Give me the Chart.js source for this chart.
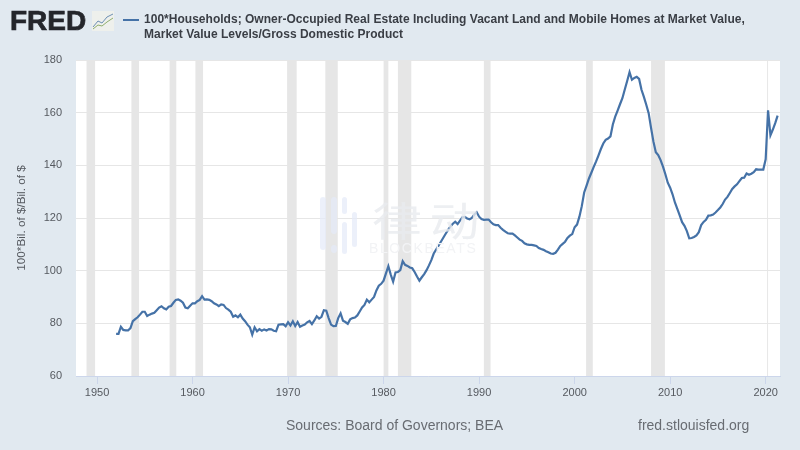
<!DOCTYPE html>
<html>
<head>
<meta charset="utf-8">
<script src="https://cdn.jsdelivr.net/npm/chart.js@4"></script>
<style>
  html, body { margin: 0; padding: 0; background: #e1e9f0; }
  #wrap { position: relative; width: 800px; height: 450px; overflow: hidden; font-family: "Liberation Sans", Arial, sans-serif; }
  #wrap div, #wrap svg { position: absolute; }
  canvas { position: absolute; left: 0; top: 0; }
  #logo { left: 10px; top: 5px; font-size: 28px; line-height: 32px; font-weight: bold; color: #24262b; -webkit-text-stroke: 0.7px #24262b; }
  #icon { left: 92px; top: 11px; }
  #key { left: 123px; top: 19px; width: 16px; height: 2px; background: #4572a7; }
  #title { left: 144px; top: 12px; font-size: 12px; line-height: 15px; font-weight: bold; color: #3a3e45; white-space: nowrap; letter-spacing: 0.02px; }
  #source { left: 286px; top: 417px; font-size: 14px; line-height: 16px; color: #686c72; }
  #site { left: 638px; top: 417px; font-size: 14px; line-height: 16px; color: #686c72; }
  .bar { background: #e4eaf8; border-radius: 3px; opacity: 0.7; }
  #mark { left: 372px; top: 195px; font-family: "Noto Sans CJK SC"; font-size: 40px; line-height: 48px; letter-spacing: 6px; color: #e9ebef; opacity: 0.8; transform: scaleX(1.25); transform-origin: left top; }
  #markEn { left: 369px; top: 241px; font-size: 14px; line-height: 15px; letter-spacing: 1.6px; color: #f2f3f5; }
</style>
</head>
<body>
<div id="wrap">
  <canvas id="mainChart" width="800" height="450"></canvas>
  <div class="bar" style="left:320px;top:197px;width:6px;height:53px"></div>
  <div class="bar" style="left:331px;top:197px;width:6px;height:37px"></div>
  <div class="bar" style="left:331px;top:245px;width:6px;height:8px"></div>
  <div class="bar" style="left:342px;top:197px;width:5px;height:17px"></div>
  <div class="bar" style="left:342px;top:222px;width:5px;height:32px"></div>
  <div class="bar" style="left:352px;top:212px;width:5px;height:35px"></div>
  <div id="mark">律动</div>
  <div id="markEn">BLOCKBEATS</div>
  <div id="logo">FRED</div>
  <svg id="icon" width="22" height="20" viewBox="0 0 22 20">
    <rect width="22" height="20" fill="#eef0ec"/>
    <polyline points="1,16 6,10 10,12 15,6 21,3" fill="none" stroke="#6d8fb3" stroke-width="1"/>
    <polyline points="1,18 6,14 10,15 15,11 21,7" fill="none" stroke="#8fae6d" stroke-width="1"/>
  </svg>
  <div id="key"></div>
  <div id="title">100*Households; Owner-Occupied Real Estate Including Vacant Land and Mobile Homes at Market Value,<br>Market Value Levels/Gross Domestic Product</div>
  <div id="source">Sources: Board of Governors; BEA</div>
  <div id="site">fred.stlouisfed.org</div>
</div>
<script>
var firstYear = 1952;
// quarterly readings, 1952 Q1 onwards
var values = [
  76, 76, 78.7, 77.5, 77.3, 77.3, 78.2, 80.8, 81.6, 82.3, 83.3, 84.4,
  84.4, 82.8, 83.3, 83.7, 84, 85, 86, 86.5, 85.7, 85.3, 86.3, 86.6,
  87.8, 88.9, 89.1, 88.6, 87.8, 86, 85.7, 86.7, 87.6, 87.6, 88.4, 88.9,
  90.3, 89, 89.1, 88.9, 88.4, 87.6, 87.2, 86.5, 87.2, 87, 85.8, 85.2,
  84.4, 82.5, 83, 82.3, 83.3, 81.8, 80.8, 79.5, 78.5, 75.7, 78.5, 77,
  77.8, 77.2, 77.7, 77.3, 77.8, 77.7, 77.2, 77, 79.5, 79.6, 79.7, 78.9,
  80.4, 79.2, 80.8, 79, 80.5, 78.7, 79.2, 79.5, 80.4, 80.9, 79.7, 81.1,
  82.7, 81.8, 82.5, 85, 84.8, 82, 79.5, 78.9, 79, 82, 83.8, 81,
  80.5, 79.8, 81.5, 82, 82.2, 83, 84.5, 86, 87, 89, 88, 89,
  90, 92.5, 94.3, 95, 96.2, 99, 101.7, 98.5, 95.8, 99.3, 99.5, 100.2,
  103.6, 102.2, 101.8, 101.2, 100.9, 99.5, 97.8, 96.2, 97.5, 98.7, 100.2, 102,
  104, 106.5, 108, 109.5, 111, 112.5, 114, 115.5, 116.8, 117.8, 118.6, 117.7,
  119, 120.3, 120.4, 119.8, 119.5, 120, 121.3, 122.2, 120.5, 119.6, 119.3, 119.4,
  119.4, 118.4, 117.6, 117.3, 117.3, 116.3, 115.5, 114.8, 114.2, 114.1, 114.1, 113.4,
  112.6, 111.8, 111.3, 110.4, 110, 109.8, 109.8, 109.6, 109.4, 108.6, 108.2, 107.9,
  107.4, 107, 106.5, 106.4, 106.8, 108, 109.4, 110.2, 111, 112.4, 113.3, 113.9,
  116.5, 117.5, 120.5, 124.5, 129.7, 132.3, 135, 137.2, 139.4, 141.5, 143.8, 146.2,
  148.3, 149.7, 150.2, 151, 155.5, 158.5, 160.8, 163.2, 165.5, 168.8, 172, 175.4,
  172.5, 173.2, 173.6, 172.8, 168.7, 166, 163, 159.8, 154.2, 149, 145, 143.9,
  142, 139.5, 136.6, 133.4, 131.5, 129, 125.9, 123.5, 121, 118.4, 117, 115,
  112.3, 112.4, 112.8, 113.4, 114.6, 117.3, 118.5, 119.3, 120.9, 121, 121.3, 122.1,
  123, 124, 125.3, 127, 128, 129.5, 131, 132, 132.8, 134, 135.2, 135.3,
  136.9, 136.4, 136.8, 137.4, 138.5, 138.4, 138.4, 138.4, 142.3, 160.9, 151.4, 153.6,
  156, 158.9
];
var yTicks = [60, 80, 100, 120, 140, 160, 180];
var xTicks = [1950, 1960, 1970, 1980, 1990, 2000, 2010, 2020];
var recessionStarts = [1948.9, 1953.6, 1957.6, 1960.3, 1969.9, 1973.9, 1980.0, 1981.5, 1990.5, 2001.2, 2008.0, 2020.15];
var recessionEnds = [1949.8, 1954.4, 1958.3, 1961.1, 1970.9, 1975.2, 1980.5, 1982.9, 1991.2, 2001.9, 2009.45, 2020.25];

var points = values.map(function (v, i) {
  return { x: firstYear + i / 4, y: v };
});

// white plot area and the recession bands go under the grid
var plotBackground = {
  id: "plotBackground",
  beforeDraw: function (chart) {
    var ctx = chart.ctx, area = chart.chartArea, x = chart.scales.x;
    ctx.save();
    ctx.fillStyle = "#ffffff";
    ctx.fillRect(area.left, area.top, area.width, area.height);
    ctx.fillStyle = "#e6e6e6";
    recessionStarts.forEach(function (start, i) {
      var a = x.getPixelForValue(start), b = x.getPixelForValue(recessionEnds[i]);
      ctx.fillRect(a, area.top, b - a, area.height);
    });
    ctx.restore();
  }
};

new Chart(document.getElementById("mainChart").getContext("2d"), {
  type: "line",
  data: {
    datasets: [{
      data: points,
      borderColor: "#4572a7",
      borderWidth: 2.2,
      pointRadius: 0,
      tension: 0,
      fill: false
    }]
  },
  options: {
    responsive: false,
    animation: false,
    layout: { padding: { left: 0, right: 20, top: 60, bottom: 0 } },
    plugins: { legend: { display: false }, tooltip: { enabled: false } },
    scales: {
      x: {
        type: "linear",
        min: 1947.8,
        max: 2021.5,
        afterBuildTicks: function (axis) {
          axis.ticks = xTicks.map(function (t) { return { value: t }; });
        },
        afterFit: function (axis) { axis.height = 74; },
        grid: { drawOnChartArea: false, tickLength: 8, tickColor: "#ccd6eb" },
        border: { color: "#ccd6eb" },
        ticks: {
          autoSkip: false,
          maxRotation: 0,
          padding: 2,
          color: "#55595f",
          font: { family: "Liberation Sans", size: 11 },
          callback: function (v) { return String(v); }
        }
      },
      y: {
        min: 60,
        max: 180,
        afterBuildTicks: function (axis) {
          axis.ticks = yTicks.map(function (t) { return { value: t }; });
        },
        afterFit: function (axis) { axis.width = 76; },
        grid: { color: "#e6e6e6", drawTicks: false },
        border: { display: false },
        ticks: {
          padding: 14,
          color: "#55595f",
          font: { family: "Liberation Sans", size: 11 }
        },
        title: {
          display: true,
          text: "100*Bil. of $/Bil. of $",
          color: "#55595f",
          font: { family: "Liberation Sans", size: 11.7 },
          padding: { top: 15, bottom: 0 }
        }
      }
    }
  },
  plugins: [plotBackground]
});
</script>
</body>
</html>
